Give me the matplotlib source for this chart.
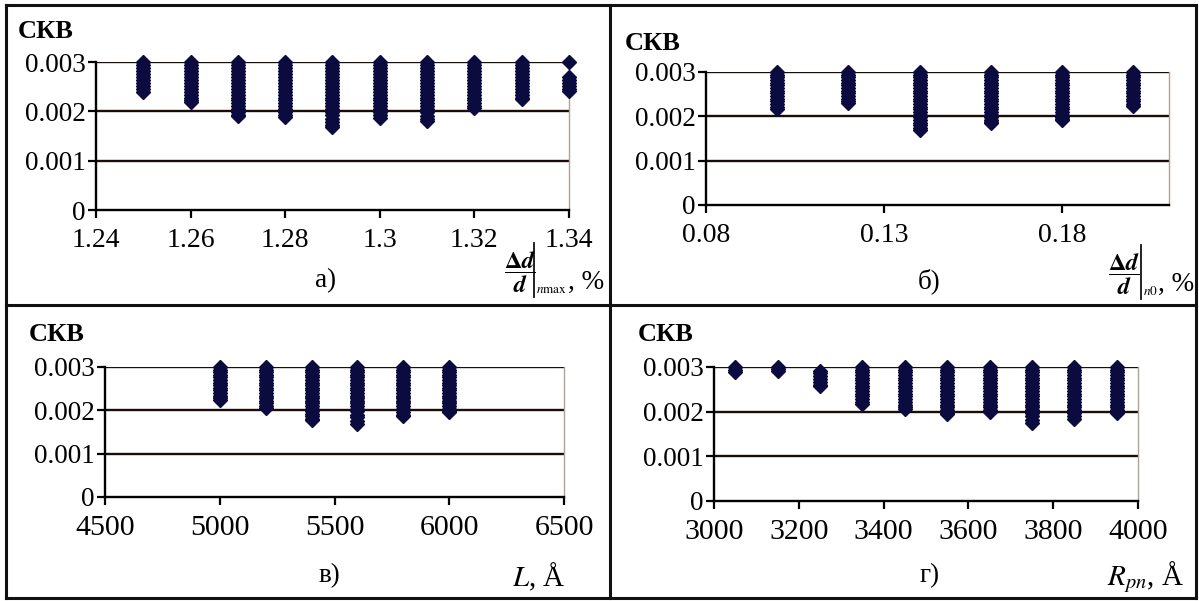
import matplotlib
matplotlib.use("Agg")
import matplotlib.pyplot as plt
from matplotlib.lines import Line2D

plt.rcParams['font.family'] = ['Liberation Serif', 'DejaVu Serif']
plt.rcParams['mathtext.fontset'] = 'stix'

# ---------------- data ----------------
# panel a: x = (Δd/d)|nmax, %
a_x = [1.25, 1.26, 1.27, 1.28, 1.29, 1.30, 1.31, 1.32, 1.33, 1.34]
a_y = [
    [0.00300, 0.00294, 0.00288, 0.00282, 0.00276, 0.00270, 0.00264, 0.00258, 0.00252, 0.00246, 0.00240],
    [0.00300, 0.00294, 0.00288, 0.00282, 0.00276, 0.00270, 0.00264, 0.00258, 0.00252, 0.00246, 0.00240, 0.00234, 0.00228, 0.00222, 0.00218],
    [0.00300, 0.00294, 0.00288, 0.00282, 0.00276, 0.00270, 0.00264, 0.00258, 0.00252, 0.00246, 0.00240, 0.00234, 0.00228, 0.00222, 0.00216, 0.00210, 0.00204, 0.00198, 0.00193, 0.00191],
    [0.00300, 0.00294, 0.00288, 0.00282, 0.00276, 0.00270, 0.00264, 0.00258, 0.00252, 0.00246, 0.00240, 0.00234, 0.00228, 0.00222, 0.00216, 0.00210, 0.00204, 0.00198, 0.00193, 0.00189],
    [0.00300, 0.00294, 0.00288, 0.00282, 0.00276, 0.00270, 0.00264, 0.00258, 0.00252, 0.00246, 0.00240, 0.00234, 0.00228, 0.00222, 0.00216, 0.00210, 0.00204, 0.00198, 0.00192, 0.00185, 0.00178, 0.00172, 0.00168],
    [0.00300, 0.00294, 0.00288, 0.00282, 0.00276, 0.00270, 0.00264, 0.00258, 0.00252, 0.00246, 0.00240, 0.00234, 0.00228, 0.00222, 0.00216, 0.00210, 0.00204, 0.00198, 0.00192, 0.00187],
    [0.00300, 0.00294, 0.00288, 0.00282, 0.00276, 0.00270, 0.00264, 0.00258, 0.00252, 0.00246, 0.00240, 0.00234, 0.00228, 0.00222, 0.00216, 0.00210, 0.00204, 0.00198, 0.00190, 0.00185, 0.00181],
    [0.00300, 0.00294, 0.00288, 0.00282, 0.00276, 0.00270, 0.00264, 0.00258, 0.00252, 0.00246, 0.00240, 0.00234, 0.00228, 0.00222, 0.00216, 0.00210, 0.00206],
    [0.00300, 0.00294, 0.00288, 0.00282, 0.00276, 0.00270, 0.00264, 0.00258, 0.00252, 0.00246, 0.00240, 0.00234, 0.00228, 0.00226],
    [0.00300, 0.00270, 0.00264, 0.00258, 0.00252, 0.00246, 0.00242],
]

# panel b: x = (Δd/d)|n0, %
b_x = [0.10, 0.12, 0.14, 0.16, 0.18, 0.20]
b_y = [
    [0.00300, 0.00294, 0.00288, 0.00282, 0.00276, 0.00270, 0.00264, 0.00258, 0.00252, 0.00246, 0.00240, 0.00234, 0.00228, 0.00222, 0.00216],
    [0.00300, 0.00294, 0.00288, 0.00282, 0.00276, 0.00270, 0.00264, 0.00258, 0.00252, 0.00246, 0.00240, 0.00234, 0.00230],
    [0.00300, 0.00294, 0.00288, 0.00282, 0.00276, 0.00270, 0.00264, 0.00258, 0.00252, 0.00246, 0.00240, 0.00234, 0.00228, 0.00222, 0.00216, 0.00210, 0.00204, 0.00198, 0.00192, 0.00186, 0.00180, 0.00174, 0.00169],
    [0.00300, 0.00294, 0.00288, 0.00282, 0.00276, 0.00270, 0.00264, 0.00258, 0.00252, 0.00246, 0.00240, 0.00234, 0.00228, 0.00222, 0.00216, 0.00210, 0.00204, 0.00198, 0.00192, 0.00187, 0.00185],
    [0.00300, 0.00294, 0.00288, 0.00282, 0.00276, 0.00270, 0.00264, 0.00258, 0.00252, 0.00246, 0.00240, 0.00234, 0.00228, 0.00222, 0.00216, 0.00210, 0.00204, 0.00198, 0.00194, 0.00192],
    [0.00300, 0.00294, 0.00288, 0.00282, 0.00276, 0.00270, 0.00264, 0.00258, 0.00252, 0.00246, 0.00240, 0.00234, 0.00228, 0.00224],
]

# panel c: x = L, Å
c_x = [5000, 5200, 5400, 5600, 5800, 6000]
c_y = [
    [0.00300, 0.00294, 0.00288, 0.00282, 0.00276, 0.00270, 0.00264, 0.00258, 0.00252, 0.00246, 0.00240, 0.00234, 0.00228, 0.00225],
    [0.00300, 0.00294, 0.00288, 0.00282, 0.00276, 0.00270, 0.00264, 0.00258, 0.00252, 0.00246, 0.00240, 0.00234, 0.00228, 0.00222, 0.00216, 0.00210, 0.00205],
    [0.00300, 0.00294, 0.00288, 0.00282, 0.00276, 0.00270, 0.00264, 0.00258, 0.00252, 0.00246, 0.00240, 0.00234, 0.00228, 0.00222, 0.00216, 0.00210, 0.00204, 0.00198, 0.00192, 0.00186, 0.00181, 0.00178],
    [0.00300, 0.00294, 0.00288, 0.00282, 0.00276, 0.00270, 0.00264, 0.00258, 0.00252, 0.00246, 0.00240, 0.00234, 0.00228, 0.00222, 0.00216, 0.00210, 0.00204, 0.00198, 0.00190, 0.00184, 0.00176, 0.00169],
    [0.00300, 0.00294, 0.00288, 0.00282, 0.00276, 0.00270, 0.00264, 0.00258, 0.00252, 0.00246, 0.00240, 0.00234, 0.00228, 0.00222, 0.00216, 0.00210, 0.00204, 0.00196, 0.00190, 0.00186],
    [0.00300, 0.00294, 0.00288, 0.00282, 0.00276, 0.00270, 0.00264, 0.00258, 0.00252, 0.00246, 0.00240, 0.00234, 0.00228, 0.00222, 0.00216, 0.00210, 0.00204, 0.00198, 0.00196],
]

# panel d: x = R_pn, Å
d_x = [3050, 3150, 3250, 3350, 3450, 3550, 3650, 3750, 3850, 3950]
d_y = [
    [0.00300, 0.00294, 0.00289],
    [0.00300, 0.00295, 0.00291],
    [0.00292, 0.00286, 0.00280, 0.00273, 0.00266, 0.00260, 0.00257],
    [0.00300, 0.00294, 0.00288, 0.00282, 0.00276, 0.00270, 0.00264, 0.00258, 0.00252, 0.00246, 0.00240, 0.00234, 0.00228, 0.00222, 0.00217],
    [0.00300, 0.00294, 0.00288, 0.00282, 0.00276, 0.00270, 0.00264, 0.00258, 0.00252, 0.00246, 0.00240, 0.00234, 0.00228, 0.00222, 0.00216, 0.00210, 0.00205],
    [0.00300, 0.00294, 0.00288, 0.00282, 0.00276, 0.00270, 0.00264, 0.00258, 0.00252, 0.00246, 0.00240, 0.00234, 0.00228, 0.00222, 0.00216, 0.00210, 0.00204, 0.00198, 0.00194],
    [0.00300, 0.00294, 0.00288, 0.00282, 0.00276, 0.00270, 0.00264, 0.00258, 0.00252, 0.00246, 0.00240, 0.00234, 0.00228, 0.00222, 0.00216, 0.00210, 0.00204, 0.00199],
    [0.00300, 0.00294, 0.00288, 0.00282, 0.00276, 0.00270, 0.00264, 0.00258, 0.00252, 0.00246, 0.00240, 0.00234, 0.00228, 0.00222, 0.00216, 0.00210, 0.00204, 0.00198, 0.00190, 0.00182, 0.00175],
    [0.00300, 0.00294, 0.00288, 0.00282, 0.00276, 0.00270, 0.00264, 0.00258, 0.00252, 0.00246, 0.00240, 0.00234, 0.00228, 0.00222, 0.00216, 0.00210, 0.00204, 0.00198, 0.00190, 0.00184],
    [0.00300, 0.00294, 0.00288, 0.00282, 0.00276, 0.00270, 0.00264, 0.00258, 0.00252, 0.00246, 0.00240, 0.00234, 0.00228, 0.00222, 0.00216, 0.00210, 0.00204, 0.00198],
]

y_ticks = [0, 0.001, 0.002, 0.003]
y_ticklabels = ['0', '0.001', '0.002', '0.003']
a_ticks = [1.24, 1.26, 1.28, 1.30, 1.32, 1.34]
a_ticklabels = ['1.24', '1.26', '1.28', '1.3', '1.32', '1.34']
b_ticks = [0.08, 0.13, 0.18]
b_ticklabels = ['0.08', '0.13', '0.18']
c_ticks = [4500, 5000, 5500, 6000, 6500]
c_ticklabels = ['4500', '5000', '5500', '6000', '6500']
d_ticks = [3000, 3200, 3400, 3600, 3800, 4000]
d_ticklabels = ['3000', '3200', '3400', '3600', '3800', '4000']

# ---------------- figure ----------------
W, H = 1199, 601
fig = plt.figure(figsize=(W / 100, H / 100), dpi=100)
fig.patch.set_facecolor('white')

def rect(l, r, t, b):
    return [l / W, 1 - b / H, (r - l) / W, (b - t) / H]

MCOL = '#0b0b3f'
GCOL = '#1a0d08'

def panel(r, xs, ys, xlim, xticks, xtl, xfs):
    ax = fig.add_axes(rect(*r))
    ax.set_xlim(*xlim)
    ax.set_ylim(0, 0.003)
    for yv in [0.001, 0.002, 0.003]:
        ax.axhline(yv, color=GCOL, lw=1.7, zorder=1)
    for x, col in zip(xs, ys):
        ax.plot([x] * len(col), col, linestyle='none', marker='D', ms=7.2,
                color=MCOL, mec=MCOL, clip_on=False, zorder=3)
    ax.spines['top'].set_visible(False)
    ax.spines['right'].set_color('#b0a098')
    ax.spines['right'].set_linewidth(1.0)
    for s in ['left', 'bottom']:
        ax.spines[s].set_color('black')
        ax.spines[s].set_linewidth(1.7)
    ax.set_yticks(y_ticks)
    ax.set_yticklabels(y_ticklabels, fontsize=19.5)
    ax.set_xticks(xticks)
    ax.set_xticklabels(xtl, fontsize=xfs)
    ax.tick_params(axis='y', direction='out', length=6, width=1.6, pad=1.5)
    ax.tick_params(axis='x', direction='out', length=6, width=1.6, pad=7)
    ax.set_facecolor('none')
    return ax

panel((96, 569, 62, 210), a_x, a_y, (1.24, 1.34), a_ticks, a_ticklabels, 20)
panel((706, 1169, 72, 205), b_x, b_y, (0.08, 0.21), b_ticks, b_ticklabels, 20)
panel((105, 564, 367, 497), c_x, c_y, (4500, 6500), c_ticks, c_ticklabels, 21.5)
panel((714, 1138, 367, 501), d_x, d_y, (3000, 4000), d_ticks, d_ticklabels, 21.5)

def ftext(x, y, s, **kw):
    fig.text(x / W, 1 - y / H, s, **kw)

def fline(x0, y0, x1, y1, lw=1.2, color='#111111'):
    fig.add_artist(Line2D([x0 / W, x1 / W], [1 - y0 / H, 1 - y1 / H],
                          transform=fig.transFigure, color=color, lw=lw))

for (x, y) in [(18, 32), (625, 43), (29, 335), (638, 335)]:
    ftext(x, y, 'СКВ', fontsize=19, fontweight='bold', ha='left', va='center')

ftext(326, 281, 'а)', fontsize=19.5, ha='center', va='center')
ftext(929, 281, 'б)', fontsize=19.5, ha='center', va='center')
ftext(329, 576, 'в)', fontsize=19.5, ha='center', va='center')
ftext(930, 576, 'г)', fontsize=19.5, ha='center', va='center')

frac = r'$\dfrac{\mathbf{\Delta}\mathbfit{d}}{\mathbfit{d}}$'
# panel a axis label
ftext(520, 272, frac, fontsize=17.5, ha='center', va='center')
fline(534, 243, 534, 297, lw=1.3)
ftext(536, 296, r'$n\mathrm{max}$', fontsize=9.5, ha='left', va='bottom')
ftext(568, 282, ', %', fontsize=19.5, ha='left', va='center')
# panel b axis label
ftext(1124, 274, frac, fontsize=17.5, ha='center', va='center')
fline(1141, 245, 1141, 299, lw=1.3)
ftext(1143, 298, r'$n0$', fontsize=9.5, ha='left', va='bottom')
ftext(1158, 284, ', %', fontsize=19.5, ha='left', va='center')

ftext(539, 577, r'$L$, Å', fontsize=21, ha='center', va='center')
ftext(1146, 577, r'$R_{pn}$, Å', fontsize=21, ha='center', va='center')

# panel frame lines
for (x0, y0, x1, y1) in [(6, 5, 1196, 5), (6, 598, 1196, 598), (6, 5, 6, 598),
                          (1196, 5, 1196, 598), (610, 5, 610, 598), (6, 305, 1196, 305)]:
    fline(x0, y0, x1, y1, lw=2.2)

fig.savefig('out.png', dpi=100, facecolor='white')
